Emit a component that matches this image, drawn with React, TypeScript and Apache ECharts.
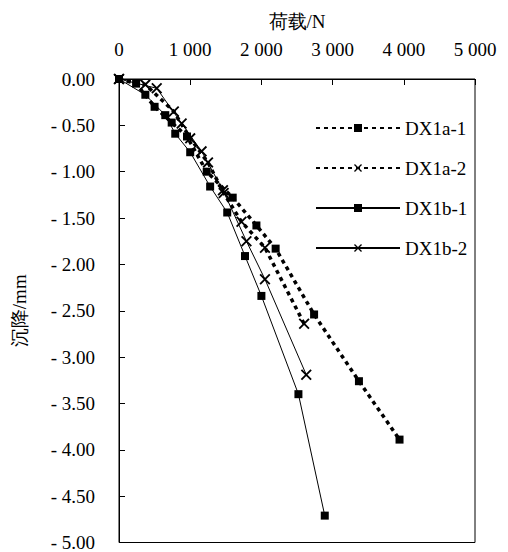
import React, { useEffect, useRef } from "react";
import * as echarts from "echarts";

// Loads (N) and settlements (mm, negative = downward)
const dx1a1Load = [0, 240, 500, 740, 955, 1232, 1597, 1930, 2200, 2740, 3370, 3940];
const dx1a1Settle = [0, -0.05, -0.3, -0.47, -0.62, -1.0, -1.28, -1.58, -1.83, -2.54, -3.26, -3.89];

const dx1a2Load = [0, 370, 770, 1000, 1250, 1470, 1720, 2050, 2600];
const dx1a2Settle = [0, -0.06, -0.35, -0.64, -0.9, -1.23, -1.54, -1.82, -2.64];

const dx1b1Load = [0, 370, 650, 790, 1000, 1280, 1520, 1770, 2000, 2520, 2890];
const dx1b1Settle = [0, -0.17, -0.39, -0.59, -0.79, -1.16, -1.44, -1.91, -2.34, -3.4, -4.71];

const dx1b2Load = [0, 530, 880, 1160, 1460, 1790, 2050, 2630];
const dx1b2Settle = [0, -0.1, -0.48, -0.78, -1.2, -1.75, -2.16, -3.19];

const seriesNames = ["DX1a-1", "DX1a-2", "DX1b-1", "DX1b-2"];

const FONT = "Times New Roman, Liberation Serif, serif";
const CROSS = "path://M0,1.2L1.2,0L10,8.8L8.8,10ZM8.8,0L10,1.2L1.2,10L0,8.8Z";

function pairs(xs: number[], ys: number[]) {
  return xs.map((x, i) => [x, ys[i]]);
}

export default function App() {
  const ref = useRef<HTMLDivElement>(null);
  useEffect(() => {
    if (!ref.current) return;
    const chart = echarts.init(ref.current, null, { renderer: "svg" });
    const dotted = { color: "#000", width: 3.5, type: [4, 4] as number[] };
    const solid = { color: "#000", width: 1, type: "solid" as const };
    chart.setOption({
      animation: false,
      backgroundColor: "#fff",
      textStyle: { fontFamily: FONT, color: "#000" },
      grid: {
        left: 119,
        top: 79,
        right: 33,
        bottom: 7,
        show: true,
        borderColor: "#000",
        borderWidth: 1,
        backgroundColor: "transparent",
      },
      legend: {
        orient: "vertical",
        left: 310,
        top: 113,
        itemWidth: 84,
        itemHeight: 10,
        itemGap: 20,
        data: seriesNames,
        textStyle: { fontFamily: FONT, fontSize: 19, color: "#000", lineHeight: 20 },
      },
      xAxis: {
        type: "value",
        position: "top",
        min: 0,
        max: 5000,
        interval: 1000,
        name: "荷载/N",
        nameLocation: "middle",
        nameGap: 48,
        nameTextStyle: { fontFamily: FONT, fontSize: 19, color: "#000" },
        axisLine: { show: true, lineStyle: { color: "#000", width: 1 } },
        axisTick: { show: true, inside: true, length: 6, lineStyle: { color: "#000" } },
        splitLine: { show: false },
        axisLabel: {
          margin: 20,
          fontFamily: FONT,
          fontSize: 19,
          color: "#000",
          formatter: (v: number) => (v >= 1000 ? Math.floor(v / 1000) + " 000" : String(v)),
        },
      },
      yAxis: {
        type: "value",
        min: -5,
        max: 0,
        interval: 0.5,
        name: "沉降/mm",
        nameLocation: "middle",
        nameGap: 90,
        nameTextStyle: { fontFamily: FONT, fontSize: 19, color: "#000" },
        axisLine: { show: true, lineStyle: { color: "#000", width: 1 } },
        axisTick: { show: true, inside: true, length: 6, lineStyle: { color: "#000" } },
        splitLine: { show: false },
        axisLabel: {
          margin: 24,
          fontFamily: FONT,
          fontSize: 19,
          color: "#000",
          formatter: (v: number) => (v === 0 ? "0.00" : "- " + Math.abs(v).toFixed(2)),
        },
      },
      series: [
        {
          name: seriesNames[0],
          type: "line",
          data: pairs(dx1a1Load, dx1a1Settle),
          symbol: "rect",
          symbolSize: 8,
          itemStyle: { color: "#000" },
          lineStyle: dotted,
        },
        {
          name: seriesNames[1],
          type: "line",
          data: pairs(dx1a2Load, dx1a2Settle),
          symbol: CROSS,
          symbolSize: 11,
          itemStyle: { color: "#000" },
          lineStyle: dotted,
        },
        {
          name: seriesNames[2],
          type: "line",
          data: pairs(dx1b1Load, dx1b1Settle),
          symbol: "rect",
          symbolSize: 8,
          itemStyle: { color: "#000" },
          lineStyle: solid,
        },
        {
          name: seriesNames[3],
          type: "line",
          data: pairs(dx1b2Load, dx1b2Settle),
          symbol: CROSS,
          symbolSize: 11,
          itemStyle: { color: "#000" },
          lineStyle: solid,
        },
      ],
    });
    return () => chart.dispose();
  }, []);
  return (
    <div
      ref={ref}
      style={{ position: "fixed", left: 0, top: 0, width: 508, height: 552, background: "#fff" }}
    />
  );
}
